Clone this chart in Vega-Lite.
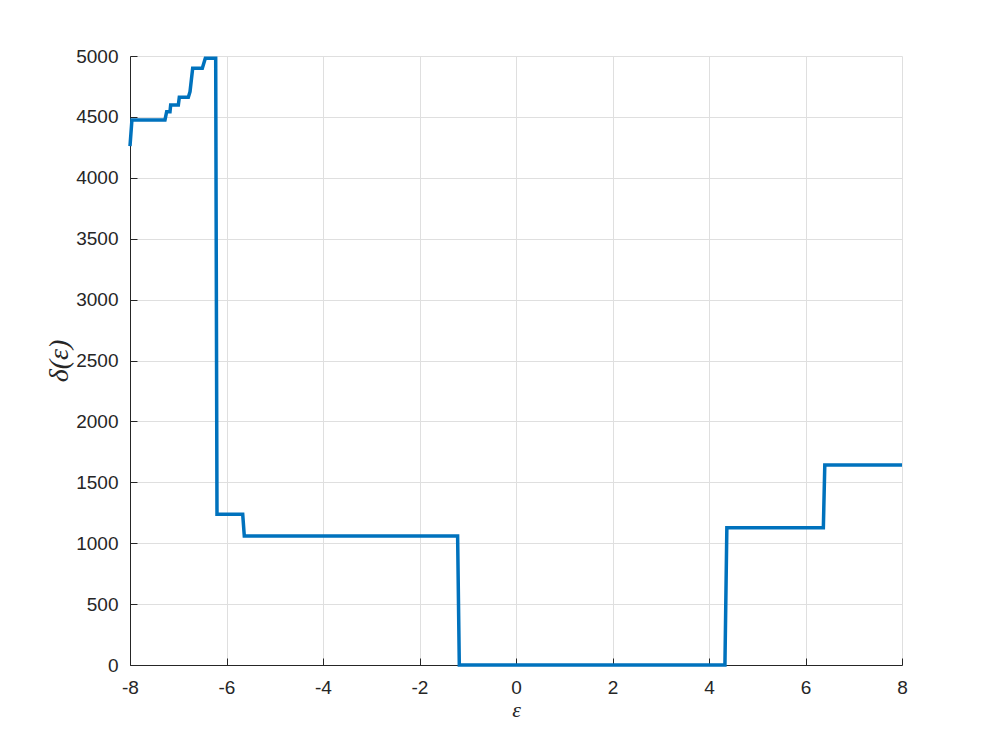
{
  "$schema": "https://vega.github.io/schema/vega-lite/v6.json",
  "width": 772,
  "height": 609,
  "autosize": {"type": "none"},
  "padding": {"left": 130, "top": 56, "right": 95, "bottom": 82},
  "background": "white",
  "config": {
    "view": {"stroke": null},
    "font": "Liberation Sans"
  },
  "data": {
    "values": [
      {"i": 1, "eps": -8.0, "delta": 4261},
      {"i": 2, "eps": -7.96, "delta": 4475},
      {"i": 3, "eps": -7.275, "delta": 4475},
      {"i": 4, "eps": -7.24, "delta": 4543},
      {"i": 5, "eps": -7.171, "delta": 4543},
      {"i": 6, "eps": -7.157, "delta": 4598},
      {"i": 7, "eps": -6.998, "delta": 4598},
      {"i": 8, "eps": -6.978, "delta": 4661},
      {"i": 9, "eps": -6.791, "delta": 4661},
      {"i": 10, "eps": -6.756, "delta": 4707},
      {"i": 11, "eps": -6.701, "delta": 4899},
      {"i": 12, "eps": -6.501, "delta": 4899},
      {"i": 13, "eps": -6.439, "delta": 4981},
      {"i": 14, "eps": -6.224, "delta": 4981},
      {"i": 15, "eps": -6.197, "delta": 1237},
      {"i": 16, "eps": -5.664, "delta": 1237},
      {"i": 17, "eps": -5.631, "delta": 1059},
      {"i": 18, "eps": -1.21, "delta": 1059},
      {"i": 19, "eps": -1.175, "delta": 0},
      {"i": 20, "eps": 4.33, "delta": 0},
      {"i": 21, "eps": 4.37, "delta": 1127},
      {"i": 22, "eps": 6.37, "delta": 1127},
      {"i": 23, "eps": 6.40, "delta": 1642},
      {"i": 24, "eps": 8.0, "delta": 1642}
    ]
  },
  "mark": {"type": "line", "stroke": "#0072BD", "strokeWidth": 3.5, "clip": false},
  "encoding": {
    "order": {"field": "i", "type": "quantitative"},
    "x": {
      "field": "eps",
      "type": "quantitative",
      "scale": {"domain": [-8, 8], "nice": false, "zero": false},
      "axis": {
        "values": [-8, -6, -4, -2, 0, 2, 4, 6, 8],
        "labelExpr": "'' + datum.value",
        "title": "ε",
        "titleFont": "Liberation Serif",
        "titleFontStyle": "italic",
        "titleFontWeight": "normal",
        "titleFontSize": 22,
        "titleColor": "#262626",
        "titlePadding": 2,
        "labelFontSize": 19,
        "labelColor": "#262626",
        "labelPadding": 20,
        "tickSize": -7,
        "tickColor": "#262626",
        "domainColor": "#262626",
        "gridColor": "#dfdfdf",
        "labelFlush": false
      }
    },
    "y": {
      "field": "delta",
      "type": "quantitative",
      "scale": {"domain": [0, 5000], "nice": false},
      "axis": {
        "values": [0, 500, 1000, 1500, 2000, 2500, 3000, 3500, 4000, 4500, 5000],
        "labelExpr": "'' + datum.value",
        "title": "δ(ε)",
        "titleFont": "Liberation Serif",
        "titleFontStyle": "italic",
        "titleFontWeight": "normal",
        "titleFontSize": 28,
        "titleColor": "#262626",
        "titlePadding": 2,
        "labelFontSize": 19,
        "labelColor": "#262626",
        "labelPadding": 19,
        "tickSize": -7,
        "tickColor": "#262626",
        "domainColor": "#262626",
        "gridColor": "#dfdfdf",
        "labelFlush": false
      }
    }
  }
}
